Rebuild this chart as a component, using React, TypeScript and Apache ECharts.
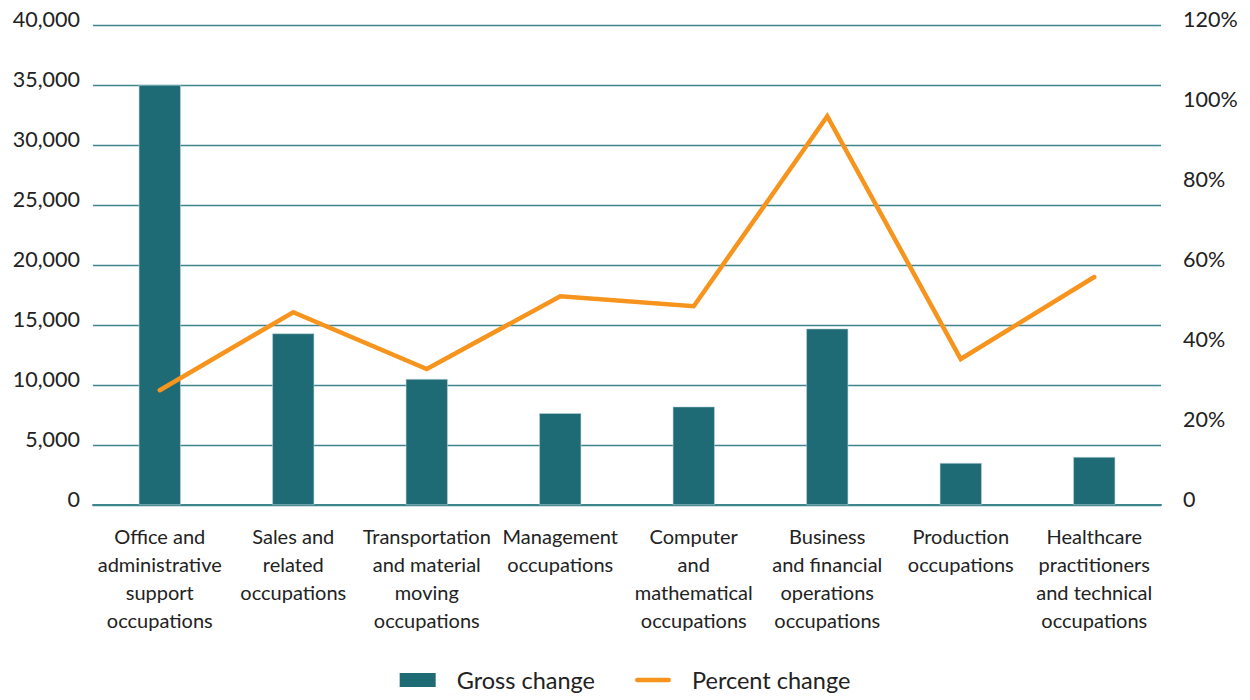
import React, { useEffect, useRef } from "react";
import * as echarts from "echarts";

const categories = [
  "Office and\nadministrative\nsupport\noccupations",
  "Sales and\nrelated\noccupations",
  "Transportation\nand material\nmoving\noccupations",
  "Management\noccupations",
  "Computer\nand\nmathematical\noccupations",
  "Business\nand financial\noperations\noccupations",
  "Production\noccupations",
  "Healthcare\npractitioners\nand technical\noccupations",
];
const grossChange = [35000, 14300, 10500, 7650, 8200, 14700, 3500, 4000];
const percentChange = [28.7, 48.2, 34, 52.2, 49.7, 97.2, 36.5, 57];

const FONT = "Lato";
const TEXT = "#222222";
const TEAL = "#1f6b75";
const GRID = "#3f858d";
const ORANGE = "#f7941d";

export default function App() {
  const ref = useRef<HTMLDivElement>(null);
  useEffect(() => {
    const chart = echarts.init(ref.current!, null, { renderer: "svg" });
    chart.setOption({
      animation: false,
      textStyle: { fontFamily: FONT, color: TEXT },
      grid: { left: 93, right: 89, top: 25, bottom: 195, containLabel: false },
      legend: {
        bottom: 3,
        left: "center",
        itemWidth: 36,
        itemHeight: 14,
        itemGap: 40,
        symbolKeepAspect: true,
        textStyle: { fontFamily: FONT, fontSize: 23.5, color: TEXT, padding: [0, 0, 0, 16] },
        data: [
          { name: "Gross change", icon: "rect", itemStyle: { color: TEAL, borderWidth: 0 } },
          {
            name: "Percent change",
            icon: "path://M2.25,0 L33.75,0 A2.25,2.25 0 0 1 33.75,4.5 L2.25,4.5 A2.25,2.25 0 0 1 2.25,0 Z",
            itemStyle: { color: ORANGE, borderWidth: 0 },
          },
        ],
      },
      xAxis: {
        type: "category",
        data: categories,
        axisTick: { show: false },
        axisLine: { show: true, lineStyle: { color: GRID, width: 2 } },
        axisLabel: {
          interval: 0,
          margin: 17,
          fontSize: 20,
          lineHeight: 28,
          color: TEXT,
          fontFamily: FONT,
          align: "center",
        },
      },
      yAxis: [
        {
          type: "value",
          min: 0,
          max: 40000,
          interval: 5000,
          axisLine: { show: false },
          axisTick: { show: false },
          splitLine: { lineStyle: { color: GRID, width: 1.3 } },
          axisLabel: {
            margin: 13,
            fontSize: 21.5,
            color: TEXT,
            fontFamily: FONT,
            lineHeight: 12,
            verticalAlign: "bottom",
            formatter: (v: number) => v.toLocaleString("en-US"),
          },
        },
        {
          type: "value",
          min: 0,
          max: 120,
          interval: 20,
          position: "right",
          axisLine: { show: false },
          axisTick: { show: false },
          splitLine: { show: false },
          axisLabel: {
            margin: 22,
            fontSize: 21.5,
            color: TEXT,
            fontFamily: FONT,
            lineHeight: 12,
            verticalAlign: "bottom",
            formatter: (v: number) => (v === 0 ? "0" : v + "%"),
          },
        },
      ],
      series: [
        {
          name: "Gross change",
          type: "bar",
          data: grossChange,
          barWidth: 42,
          itemStyle: { color: TEAL, borderColor: "#bcd3d6", borderWidth: 0.6 },
          yAxisIndex: 0,
        },
        {
          name: "Percent change",
          type: "line",
          data: percentChange,
          yAxisIndex: 1,
          symbol: "none",
          lineStyle: { color: ORANGE, width: 4.5, cap: "round", join: "miter" },
          itemStyle: { color: ORANGE },
        },
      ],
    });
    return () => chart.dispose();
  }, []);
  return (
    <div
      ref={ref}
      style={{ position: "absolute", left: 0, top: 0, width: 1250, height: 700 }}
    />
  );
}
